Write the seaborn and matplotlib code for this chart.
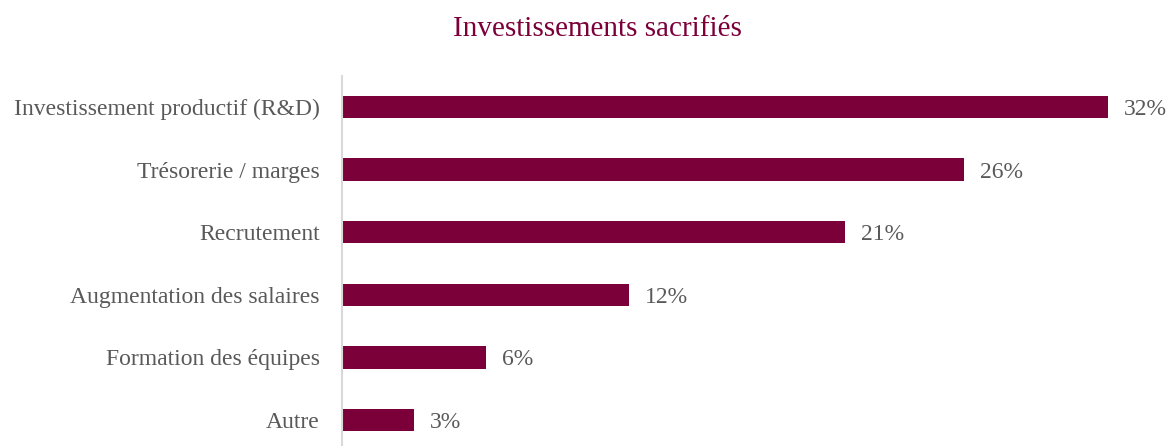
import matplotlib
matplotlib.use("Agg")
import matplotlib.pyplot as plt
import seaborn as sns
import pandas as pd

categories = [
    "Investissement productif (R&D)",
    "Trésorerie / marges",
    "Recrutement",
    "Augmentation des salaires",
    "Formation des équipes",
    "Autre",
]
values = [32, 26, 21, 12, 6, 3]
value_labels = ["32%", "26%", "21%", "12%", "6%", "3%"]
title = "Investissements sacrifiés"

BAR_COLOR = "#7B003A"
TEXT_COLOR = "#595959"

sns.set_theme(style="white")
plt.rcParams["font.family"] = ["Liberation Serif", "DejaVu Serif"]

df = pd.DataFrame({"categorie": categories, "valeur": values})

fig = plt.figure(figsize=(11.76, 4.46), dpi=100)
ax = fig.add_axes([0.2908, -0.0119, 0.70, 0.8422])

sns.barplot(data=df, x="valeur", y="categorie", orient="h", color=BAR_COLOR,
            width=0.355, saturation=1, linewidth=0, ax=ax)

px_per_unit = 23.94
ax.set_xlim(0, 0.70 * 1176 / px_per_unit)
ax.set_ylim(len(categories) - 0.5, -0.5)

for patch, lab in zip(ax.patches, value_labels):
    y = patch.get_y() + patch.get_height() / 2
    ax.annotate(lab, (patch.get_width(), y), xytext=(16, 0),
                textcoords="offset pixels",
                va="center_baseline", ha="left", fontsize=17, color=TEXT_COLOR)

ax.set_xlabel("")
ax.set_ylabel("")
ax.set_xticks([])
ax.tick_params(axis="y", length=0, pad=16, labelsize=17, labelcolor=TEXT_COLOR)
for t in ax.get_yticklabels():
    t.set_verticalalignment("center_baseline")
for side in ["top", "right", "bottom"]:
    ax.spines[side].set_visible(False)
ax.spines["left"].set_color("#D9D9D9")
ax.spines["left"].set_linewidth(1.5)

fig.text(0.508, 0.935, title, ha="center", va="center", fontsize=21,
         color=BAR_COLOR)

fig.savefig("out.png", dpi=100)
